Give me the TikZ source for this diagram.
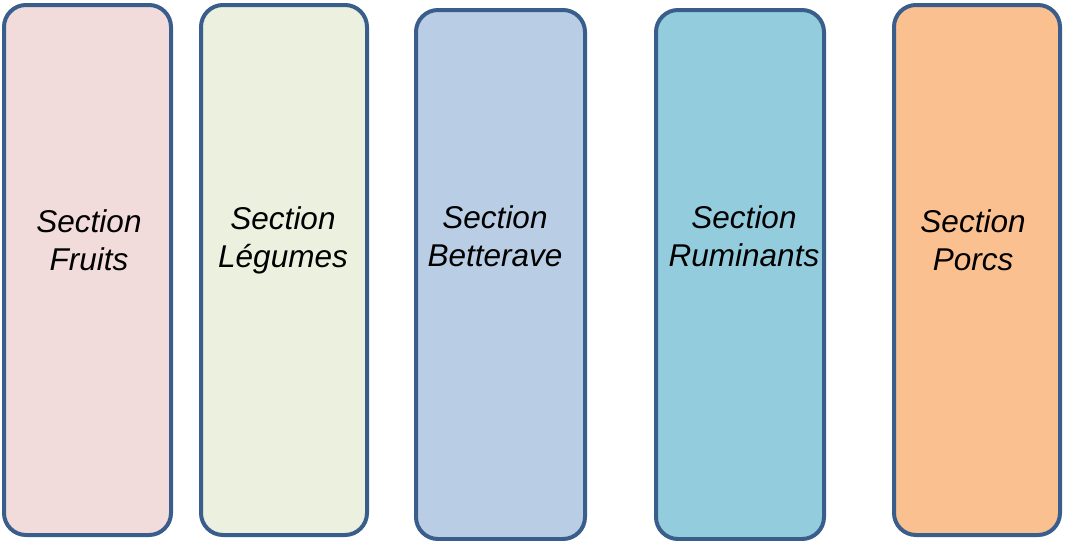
\documentclass[tikz,border=0pt]{standalone}
\usepackage{fontspec}
\setmainfont{Liberation Sans}
\usepackage{xcolor}
\usepackage{tikz}
\definecolor{secborder}{HTML}{3A5E8C}
\definecolor{secpink}{HTML}{F2DCDB}
\definecolor{secgreen}{HTML}{EBF1DE}
\definecolor{secblue}{HTML}{B9CDE5}
\definecolor{secteal}{HTML}{93CDDD}
\definecolor{secorange}{HTML}{FAC090}
\tikzset{
    secnode/.style = {rectangle, rounded corners=22pt, draw=secborder, line width=4pt, inner sep=0pt},
    sectext/.style = {align=center, inner sep=0pt, text centered, font=\fontsize{31.5}{38}\selectfont\itshape}
}

\begin{document}
\begin{tikzpicture}
            [x=1pt, y=-1pt]
            \useasboundingbox (0,0) rectangle (1066,541);

            \node [secnode, fill=secpink,   minimum width=167pt, minimum height=530pt] (fruits)     at (87.5,270) {};
            \node [secnode, fill=secgreen,  minimum width=166pt, minimum height=530pt] (legumes)    at (284,270) {};
            \node [secnode, fill=secblue,   minimum width=169pt, minimum height=529pt] (betterave)  at (500.5,274.5) {};
            \node [secnode, fill=secteal,   minimum width=168pt, minimum height=529pt] (ruminants)  at (740,274.5) {};
            \node [secnode, fill=secorange, minimum width=166pt, minimum height=530pt] (porcs)      at (977,270) {};

            \node [sectext] (fruitsT)    at (89,240)  {Section\\Fruits};
            \node [sectext] (legumesT)   at (283,240) {Section\\Légumes};
            \node [sectext] (betteraveT) at (495,236) {Section\\Betterave};
            \node [sectext] (ruminantsT) at (744,236) {Section\\Ruminants};
            \node [sectext] (porcsT)     at (973,240) {Section\\Porcs};
\end{tikzpicture}
\end{document}
